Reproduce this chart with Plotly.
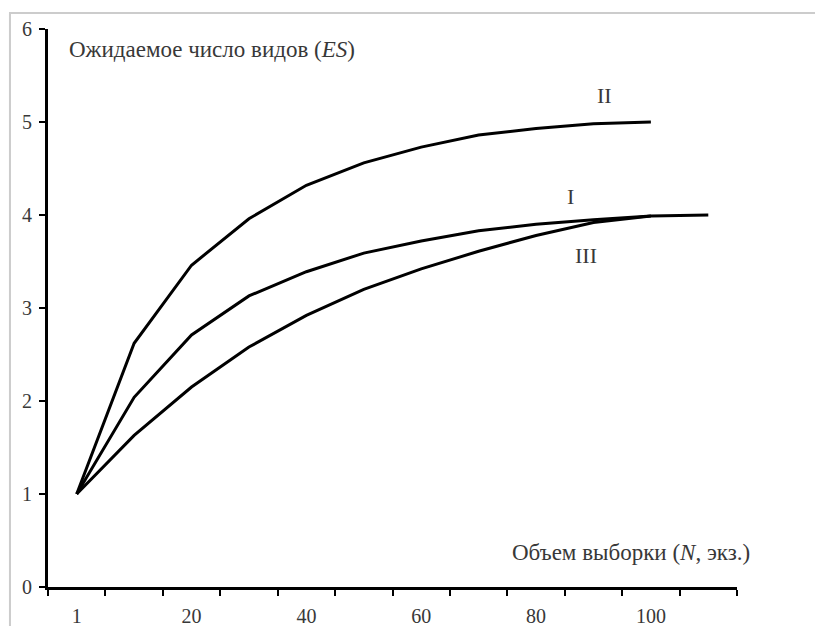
import plotly.graph_objects as go

# Sample size categories (N, specimens)
categories = ["1", "10", "20", "30", "40", "50", "60", "70", "80", "90", "100", "110"]
tick_labels = ["1", "", "20", "", "40", "", "60", "", "80", "", "100", ""]

# Expected number of species (ES)
curve_I = [1.0, 2.04, 2.71, 3.13, 3.39, 3.59, 3.72, 3.83, 3.90, 3.95, 3.99]
curve_II = [1.0, 2.62, 3.46, 3.96, 4.32, 4.56, 4.73, 4.86, 4.93, 4.98, 5.0]
curve_III = [1.0, 1.63, 2.15, 2.58, 2.92, 3.20, 3.42, 3.61, 3.78, 3.92, 3.99, 4.0]

FONT = "Liberation Serif"
TXT = "#383838"

fig = go.Figure()
for vals in (curve_I, curve_II, curve_III):
    fig.add_trace(go.Scatter(
        x=categories[:len(vals)], y=vals, mode="lines",
        line=dict(color="black", width=3), showlegend=False, hoverinfo="skip",
    ))

fig.update_layout(
    width=815, height=618,
    margin=dict(l=40, r=86, t=21, b=39),
    paper_bgcolor="white", plot_bgcolor="white",
    font=dict(family=FONT, size=20, color=TXT),
    xaxis=dict(
        type="category", categoryorder="array", categoryarray=categories,
        range=[-0.5, 11.5], tickmode="array", tickvals=categories, ticktext=tick_labels,
        tickson="boundaries", ticks="outside", ticklen=6, tickwidth=2, tickcolor="black",
        showline=True, linecolor="black", linewidth=3, showgrid=False, zeroline=False,
        tickfont=dict(family=FONT, size=20, color=TXT), ticklabelstandoff=9,
        automargin=False,
    ),
    yaxis=dict(
        range=[0, 6], tickvals=[0, 1, 2, 3, 4, 5, 6], ticks="outside", ticklen=6, tickwidth=2,
        tickcolor="black", showline=True, linecolor="black", linewidth=3,
        showgrid=False, zeroline=False, tickfont=dict(family=FONT, size=20, color=TXT),
        ticklabelstandoff=3, automargin=False,
    ),
    shapes=[dict(type="rect", xref="paper", yref="paper", x0=-0.0552, x1=1.2, y0=-0.2, y1=1.0285,
                 line=dict(color="#cccccc", width=2), fillcolor="rgba(0,0,0,0)", layer="below")],
)

fig.add_annotation(xref="paper", yref="paper", x=0.0276, y=0.964, xanchor="left", yanchor="middle",
                   text="Ожидаемое число видов (<i>ES</i>)", showarrow=False,
                   font=dict(family=FONT, size=23, color=TXT))
fig.add_annotation(xref="paper", yref="paper", x=1.0218, y=0.0627, xanchor="right", yanchor="middle",
                   text="Объем выборки (<i>N</i>, экз.)", showarrow=False,
                   font=dict(family=FONT, size=23, color=TXT))

for label, xi, yv in (("II", 9.2, 5.29), ("I", 8.6, 4.2), ("III", 8.87, 3.56)):
    fig.add_annotation(x=xi, y=yv, text=label, showarrow=False,
                       font=dict(family=FONT, size=22, color=TXT))

fig.write_html("out.html")
